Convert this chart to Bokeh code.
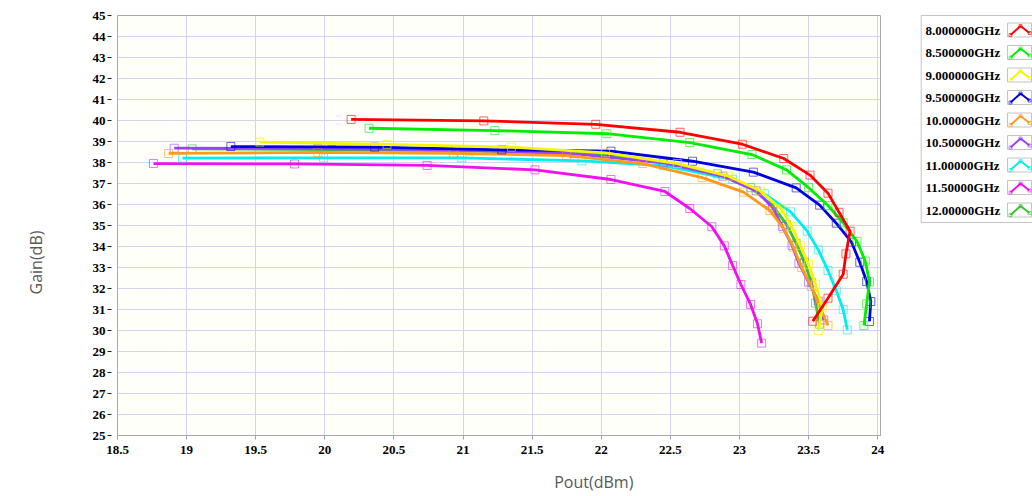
import math
from bokeh.plotting import figure
from bokeh.models import Range1d, FixedTicker
from bokeh.layouts import row, column
from bokeh.embed import file_html
from bokeh.resources import INLINE
from bokeh.core.properties import value

# ---------------- data ----------------
freq_labels = ["8.000000GHz", "8.500000GHz", "9.000000GHz", "9.500000GHz",
               "10.00000GHz", "10.50000GHz", "11.00000GHz", "11.50000GHz",
               "12.00000GHz"]
series_colors = ["#ff0000", "#00ee00", "#f5f500", "#0000e6", "#ff9a1a",
                 "#9a40ff", "#00eeee", "#f010f0", "#33c433"]

pout_8_0 = [20.19, 21.15, 21.96, 22.57, 23.02, 23.32, 23.51, 23.64, 23.72, 23.80, 23.77, 23.75, 23.64, 23.53]
gain_8_0 = [40.05, 39.98, 39.82, 39.44, 38.87, 38.19, 37.40, 36.54, 35.63, 34.73, 33.65, 32.68, 31.54, 30.44]

pout_8_5 = [20.32, 21.23, 22.04, 22.64, 23.09, 23.34, 23.50, 23.64, 23.75, 23.85, 23.91, 23.94, 23.92, 23.90]
gain_8_5 = [39.63, 39.52, 39.37, 38.95, 38.38, 37.65, 36.80, 35.95, 35.13, 34.24, 33.30, 32.32, 31.27, 30.24]

pout_9_0 = [19.53, 20.45, 21.35, 22.03, 22.55, 22.92, 23.15, 23.30, 23.38, 23.44, 23.50, 23.55, 23.60, 23.57]
gain_9_0 = [38.97, 38.86, 38.73, 38.46, 37.95, 37.35, 36.65, 35.80, 34.95, 34.05, 33.15, 32.20, 31.10, 30.00]

pout_9_5 = [19.32, 20.36, 21.28, 22.07, 22.66, 23.10, 23.41, 23.58, 23.70, 23.81, 23.87, 23.92, 23.95, 23.94]
gain_9_5 = [38.76, 38.73, 38.60, 38.54, 38.06, 37.54, 36.79, 35.97, 35.11, 34.21, 33.25, 32.33, 31.38, 30.43]

pout_10_0 = [18.87, 19.95, 20.93, 21.75, 22.30, 22.73, 23.03, 23.22, 23.32, 23.39, 23.45, 23.52, 23.58, 23.64]
gain_10_0 = [38.43, 38.48, 38.44, 38.33, 37.95, 37.28, 36.59, 35.71, 34.85, 33.97, 33.00, 32.10, 31.15, 30.24]

pout_10_5 = [18.91, 19.95, 20.95, 21.80, 22.45, 22.88, 23.12, 23.24, 23.31, 23.38, 23.43, 23.50, 23.57, 23.61]
gain_10_5 = [38.68, 38.66, 38.60, 38.42, 37.98, 37.35, 36.65, 35.85, 34.95, 34.05, 33.20, 32.30, 31.40, 30.50]

pout_11_0 = [18.97, 19.99, 20.99, 21.86, 22.45, 22.95, 23.18, 23.37, 23.49, 23.57, 23.64, 23.70, 23.75, 23.78]
gain_11_0 = [38.21, 38.22, 38.22, 38.08, 37.85, 37.20, 36.51, 35.65, 34.73, 33.84, 32.86, 31.90, 31.00, 30.03]

pout_11_5 = [18.76, 19.78, 20.74, 21.52, 22.07, 22.46, 22.64, 22.80, 22.89, 22.95, 23.01, 23.08, 23.13, 23.16]
gain_11_5 = [37.95, 37.93, 37.86, 37.65, 37.19, 36.62, 35.81, 34.94, 34.03, 33.10, 32.19, 31.24, 30.32, 29.40]

pout_12_0 = [19.04, 20.05, 21.05, 21.95, 22.50, 22.84, 23.08, 23.24, 23.34, 23.41, 23.47, 23.52, 23.55, 23.58]
gain_12_0 = [38.65, 38.62, 38.55, 38.40, 37.95, 37.46, 36.80, 35.95, 35.05, 34.15, 33.25, 32.30, 31.30, 30.30]

x_ticks = [18.5, 19, 19.5, 20, 20.5, 21, 21.5, 22, 22.5, 23, 23.5, 24]
y_ticks = list(range(25, 46))

x_title = "Pout(dBm)"
y_title = "Gain(dB)"

series_pout = [pout_8_0, pout_8_5, pout_9_0, pout_9_5, pout_10_0, pout_10_5, pout_11_0, pout_11_5, pout_12_0]
series_gain = [gain_8_0, gain_8_5, gain_9_0, gain_9_5, gain_10_0, gain_10_5, gain_11_0, gain_11_5, gain_12_0]

# ---------------- layout sizes (pixels) ----------------
PAGE_H = 496
YLAB_W = 60
MAIN_W = 857
MAIN_H = 466
XLAB_H = PAGE_H - MAIN_H
LEG_W = 115
TICK_FONT = "Liberation Serif"
TITLE_FONT = "Open Sans"


def blank_panel(w, h):
    f = figure(width=w, height=h, x_range=Range1d(0, w), y_range=Range1d(h, 0),
               output_backend="svg", toolbar_location=None, min_border=0,
               x_axis_location=None, y_axis_location=None,
               background_fill_color="#ffffff", border_fill_color="#ffffff")
    f.grid.visible = False
    f.outline_line_color = None
    return f


# ---------------- main figure ----------------
p = figure(width=MAIN_W, height=MAIN_H,
           x_range=Range1d(18.5, 24.02), y_range=Range1d(25, 45),
           output_backend="svg", toolbar_location=None,
           min_border_left=57, min_border_right=37,
           min_border_top=15, min_border_bottom=31,
           background_fill_color="#fffffa", border_fill_color="#ffffff")
p.outline_line_color = "#a8a8a8"

p.xaxis.ticker = FixedTicker(ticks=x_ticks)
p.yaxis.ticker = FixedTicker(ticks=y_ticks)
p.xgrid.ticker = FixedTicker(ticks=x_ticks)
p.ygrid.ticker = FixedTicker(ticks=y_ticks)
p.grid.grid_line_color = "#d2d2f2"
p.grid.grid_line_width = 1

for ax in (p.xaxis[0], p.yaxis[0]):
    ax.axis_line_color = "#a8a8a8"
    ax.minor_tick_line_color = None
    ax.major_label_text_font = TICK_FONT
    ax.major_label_text_font_style = "bold"
    ax.major_label_text_font_size = "13px"
    ax.major_label_text_color = "#000000"

p.xaxis.major_tick_in = 0
p.xaxis.major_tick_out = 4
p.xaxis.major_tick_line_color = "#a0a0a0"
p.xaxis.major_label_standoff = 6

p.yaxis.major_tick_in = 0
p.yaxis.major_tick_out = 10
p.yaxis.major_tick_line_color = "#202020"
p.yaxis.major_tick_line_dash = "4 6"
p.yaxis.major_label_standoff = 2

for xs, ys, c in reversed(list(zip(series_pout, series_gain, series_colors))):
    p.line(xs, ys, line_color=c, line_width=2.8)
    p.scatter(xs, ys, marker="square", size=8, fill_color=None,
              line_color=c, line_alpha=0.6, line_width=1)

# ---------------- axis title panels ----------------
ylab = blank_panel(YLAB_W, MAIN_H)
ylab.text(x=[35], y=[262], text=[y_title], angle=math.pi / 2,
          text_align="center", text_baseline="middle",
          text_font=value(TITLE_FONT), text_font_size="16px", text_color="#595959")

xlab = blank_panel(MAIN_W, XLAB_H)
xlab.text(x=[595 - YLAB_W], y=[15], text=[x_title],
          text_align="center", text_baseline="middle",
          text_font=value(TITLE_FONT), text_font_size="16px", text_color="#595959")

# ---------------- legend panel ----------------
leg = blank_panel(LEG_W, PAGE_H)
leg.quad(left=3.7, right=140, top=15, bottom=222, fill_color="#ffffff",
         line_color="#c4c4c4", line_width=1)

row_y = [29.5 + 22.5 * i for i in range(len(freq_labels))]
leg.text(x=[8] * len(freq_labels), y=row_y, text=freq_labels,
         text_font=value(TICK_FONT), text_font_style="bold", text_font_size="13px",
         text_baseline="middle", text_align="left", text_color="#000000")
for yc, c in zip(row_y, series_colors):
    leg.quad(left=90, right=114, top=yc - 7, bottom=yc + 7,
             fill_color="#ffffff", line_color="#c4c4c4", line_width=1)
    leg.line([93, 103, 112], [yc + 5, yc - 4, yc + 3], line_color=c, line_width=2)
    leg.scatter([93, 103, 112], [yc + 5, yc - 4, yc + 3], marker="square", size=3,
                fill_color=None, line_color=c, line_alpha=0.6)

layout = row(ylab, column(p, xlab), leg)
open("out.html", "w").write(file_html(layout, INLINE))
